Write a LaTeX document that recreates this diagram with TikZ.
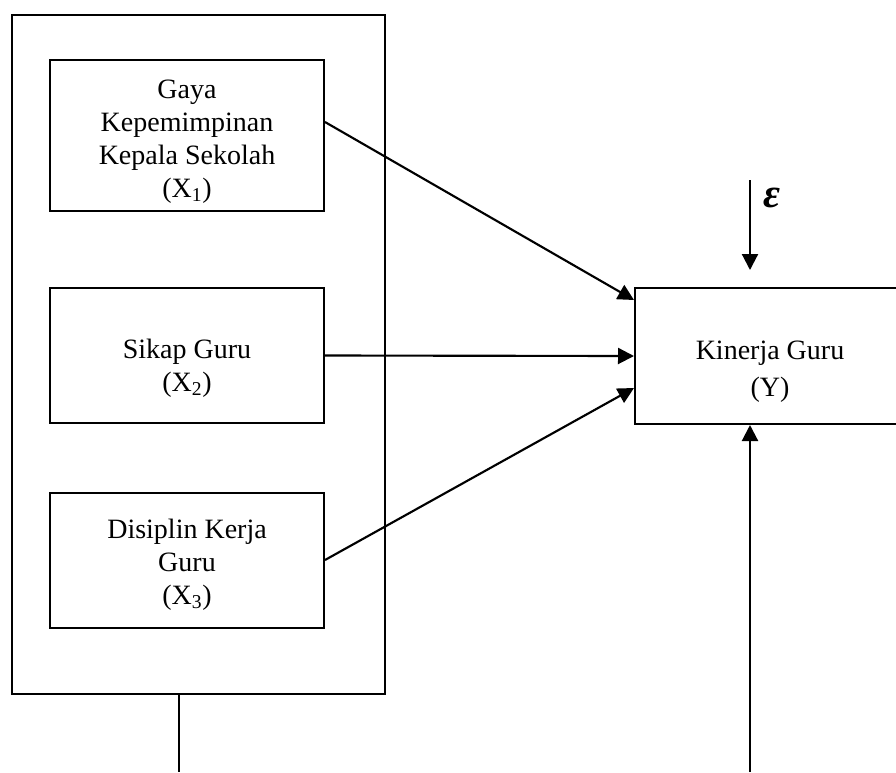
\documentclass[tikz,border=0pt]{standalone}
\usepackage{fontspec}
\setmainfont{Liberation Serif}
\usetikzlibrary{arrows.meta,calc}
\newlength\ux
\setlength\ux{0.75pt}
\newcommand\boxtext[2]{\raisebox{#1\ux}[0pt][0pt]{\begin{tabular}{@{}c@{}}#2\end{tabular}}}
\begin{document}
\begin{tikzpicture}[x=0.75pt,y=-0.75pt,
  box/.style={draw,line width=1.5pt,rectangle,inner sep=0pt,font=\fontsize{21}{24.75}\selectfont},
  conn/.style={line width=1.6pt,-{Triangle[length=12pt,width=12pt]}},
  plainline/.style={line width=1.6pt}]
\useasboundingbox (0,0) rectangle (896,772);
\node[box,minimum width=279.75pt,minimum height=509.25pt] (outer) at (198.5,354.5) {};
\node[box,minimum width=205.5pt,minimum height=113.25pt] (X1) at (187,135.5)
  {\boxtext{-13}{Gaya\\Kepemimpinan\\Kepala Sekolah\\(X\textsubscript{1})}};
\node[box,minimum width=205.5pt,minimum height=101.25pt] (X2) at (187,355.5)
  {\boxtext{-19.4}{Sikap Guru\\(X\textsubscript{2})}};
\node[box,minimum width=205.5pt,minimum height=101.25pt] (X3) at (187,560)
  {\boxtext{-11.4}{Disiplin Kerja\\Guru\\(X\textsubscript{3})}};
\node[box,minimum width=202.5pt,minimum height=102pt] (Y) at (770,356)
  {\boxtext{-22.7}{Kinerja Guru\\[3pt](Y)}};
\draw[conn] ($(X1.east)+(0,-13.5)$) -- ($(Y.west)+(0,-56)$);
\draw[conn] (X2.east) -- (Y.west);
\draw[conn] (X3.east) -- ($(Y.west)+(0,32)$);
\coordinate (e0) at (750,180);
\draw[conn,shorten >=12.75pt] (e0) -- (e0 |- Y.north);
\node[font=\fontsize{31}{33}\selectfont\bfseries\itshape,inner sep=0pt] (eps) at (772,197.5) {ε};
\coordinate (b1) at (179,772);
\coordinate (b2) at (750,772);
\draw[plainline] (outer.south -| b1) -- (b1);
\draw[conn] (b2) -- (b2 |- Y.south);
\end{tikzpicture}
\end{document}
